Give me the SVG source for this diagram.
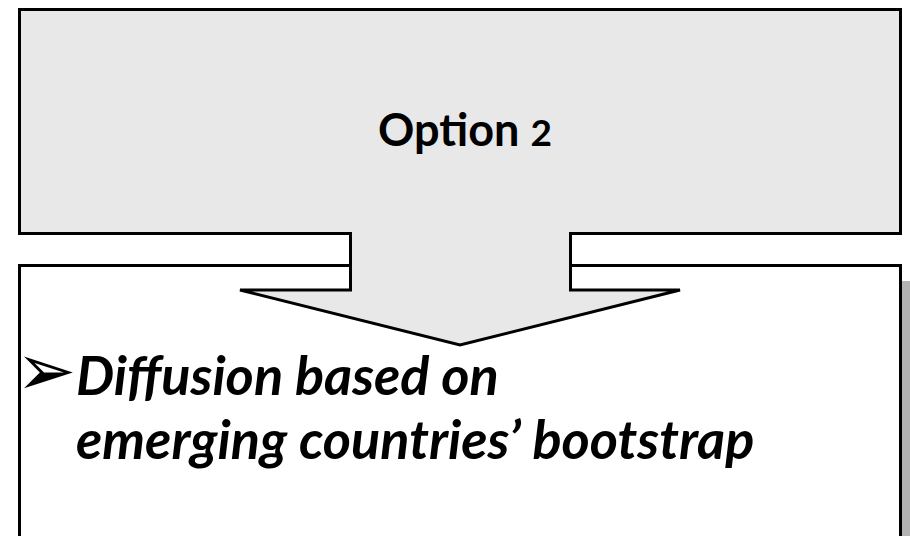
<svg xmlns="http://www.w3.org/2000/svg" width="910" height="536" viewBox="0 0 910 536">
<style>
.box{stroke:#000;stroke-width:3}
.t{font-family:Lato,"Open Sans","Liberation Sans",sans-serif;font-weight:bold;fill:#000}
</style>
<rect width="910" height="536" fill="#fff"/>
<g id="option-box">
<rect class="box" x="19.5" y="9.5" width="881" height="224" fill="#e8e8e8"/>
<text class="t" x="465" y="146" font-size="45" text-anchor="middle">Option <tspan font-size="37">2</tspan></text>
</g>
<g id="content-box">
<rect x="28" y="281" width="890" height="300" fill="#b3b3b3"/>
<rect class="box" x="19.5" y="265.5" width="881" height="300" fill="#fff"/>
<text x="16" y="395" font-family="'DejaVu Sans',sans-serif" font-size="72" fill="#000">➢</text>
<text class="t" font-style="italic" font-size="54"><tspan x="76" y="395">Diffusion based on</tspan><tspan x="76" y="459">emerging countries’ bootstrap</tspan></text>
</g>
<g id="connectors">
<polygon points="350.5,228 350.5,290 240,290 460,345 680,290 570.5,290 570.5,228" fill="#e8e8e8"/>
<polyline class="box" points="350.5,232 350.5,290 240,290 460,345 680,290 570.5,290 570.5,232" fill="none" stroke-linejoin="miter"/>
</g>
</svg>
